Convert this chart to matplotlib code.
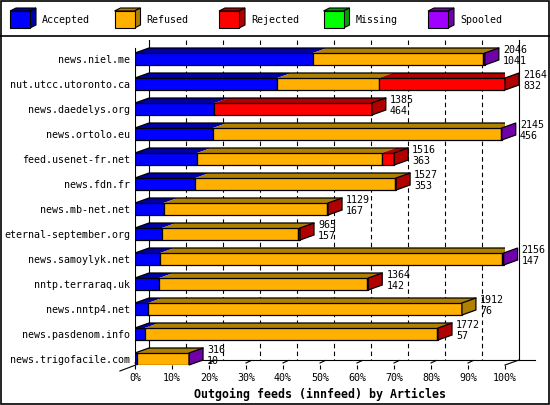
import matplotlib
matplotlib.use("Agg")
import matplotlib.pyplot as plt
from matplotlib.patches import Polygon, Rectangle
import numpy as np

# data: articles per outgoing feed
hosts = ["news.niel.me", "nut.utcc.utoronto.ca", "news.daedelys.org", "news.ortolo.eu",
         "feed.usenet-fr.net", "news.fdn.fr", "news.mb-net.net", "eternal-september.org",
         "news.samoylyk.net", "nntp.terraraq.uk", "news.nntp4.net", "news.pasdenom.info",
         "news.trigofacile.com"]
offered = [2046, 2164, 1385, 2145, 1516, 1527, 1129, 965, 2156, 1364, 1912, 1772, 316]
accepted = [1041, 832, 464, 456, 363, 353, 167, 157, 147, 142, 76, 57, 10]
refused = [997, 595, 0, 1685, 1081, 1167, 956, 798, 2001, 1215, 1836, 1709, 304]
rejected = [0, 737, 921, 0, 72, 7, 6, 10, 0, 7, 0, 6, 0]
missing = [0] * 13
spooled = [8, 0, 0, 4, 0, 0, 0, 0, 8, 0, 0, 0, 2]

series = ["Accepted", "Refused", "Rejected", "Missing", "Spooled"]
front = ["#0000ff", "#ffb000", "#ff0000", "#00ff00", "#a000ff"]
dark = ["#0000a8", "#b08000", "#b00000", "#00a000", "#7000a8"]
xticks = np.arange(0, 101, 10)

MONO = "DejaVu Sans Mono"
FS = 7.2
W, H = 550, 405

fig = plt.figure(figsize=(5.5, 4.05), dpi=100)

# background / legend layer in pixel coords
bg = fig.add_axes([0, 0, 1, 1], zorder=0)
bg.set_xlim(0, W)
bg.set_ylim(H, 0)
bg.axis("off")
bg.add_patch(Rectangle((0.5, 0.5), W - 1.5, H - 1.5, fill=False, ec="black", lw=1.2))
bg.plot([0, W], [35.5, 35.5], color="black", lw=1.2)
for k, name in enumerate(series):
    x0 = 10 + 104.5 * k
    bg.add_patch(Polygon([(x0, 11), (x0 + 6, 8), (x0 + 26, 8), (x0 + 20, 11)],
                         fc=dark[k], ec="black", lw=0.8))
    bg.add_patch(Polygon([(x0 + 20, 11), (x0 + 26, 8), (x0 + 26, 25), (x0 + 20, 28)],
                         fc=dark[k], ec="black", lw=0.8))
    bg.add_patch(Rectangle((x0, 11), 20, 17, fc=front[k], ec="black", lw=0.8))
    bg.text(x0 + 32, 20, name, family=MONO, fontsize=FS, va="center", ha="left")

# main chart: x in % of largest feed, y in rows
ax = fig.add_axes([135 / W, 40 / H, 370 / W, 325 / H], zorder=1)
ax.patch.set_visible(False)
ax.set_xlim(0, 100)
ax.set_ylim(12.24, -0.76)
for s in ax.spines.values():
    s.set_visible(False)

DX = 14 / 3.7      # depth offset in %
DY = 0.2           # depth offset in rows
BH = 0.48
top_back = -0.76
floor_front = 12.24
floor_back = floor_front - DY

# back wall / grid
ax.plot([DX, DX], [top_back, floor_back], color="black", lw=0.8, zorder=1)
ax.plot([100 + DX, 100 + DX], [top_back, floor_back], color="black", lw=0.8, zorder=1, clip_on=False)
ax.plot([DX, 108], [floor_back, floor_back], color="black", lw=0.8, zorder=1, clip_on=False)
for t in xticks[1:-1]:
    ax.plot([t + DX, t + DX], [top_back, floor_back], color="black", lw=0.8,
            ls=(0, (4, 3)), zorder=1)
ax.plot([-DX - 0.3, DX], [floor_front + 0.24, floor_back], color="black", lw=0.8, zorder=1, clip_on=False)
ax.plot([100, 100 + DX], [floor_front, floor_back], color="black", lw=0.8, zorder=1, clip_on=False)
ax.plot([0, 0], [-0.44, floor_front], color="black", lw=0.8, zorder=1)
for t in xticks[:-1]:
    ax.plot([t, t + 1.4], [floor_front - 0.08, floor_back + 0.02], color="black", lw=0.8,
            zorder=1, clip_on=False)

vals = np.array([accepted, refused, rejected, missing, spooled], dtype=float)
scale = 100.0 / max(offered)
rows = np.arange(len(hosts))

for i in rows:
    cum = 0.0
    last = 0
    top = i - BH / 2
    for k in range(len(series)):
        w = vals[k, i] * scale
        if w <= 0:
            continue
        ax.add_patch(Polygon([(cum, top), (cum + w, top), (cum + w + DX, top - DY), (cum + DX, top - DY)],
                             fc=dark[k], ec="none", zorder=2))
        ax.barh(i, w, left=cum, height=BH, color=front[k], edgecolor="black", lw=0.9, zorder=3)
        cum += w
        last = k
    ax.plot([0, DX, cum + DX], [top, top - DY, top - DY], color="black", lw=0.9, zorder=4)
    ax.add_patch(Polygon([(cum, top), (cum + DX, top - DY), (cum + DX, top - DY + BH), (cum, top + BH)],
                         fc=dark[last], ec="black", lw=0.9, zorder=4, clip_on=False))
    xt = cum + DX + 1.1
    ax.text(xt, i - 0.36, str(offered[i]), family=MONO, fontsize=FS, va="center", ha="left",
            zorder=5, clip_on=False)
    ax.text(xt, i + 0.08, str(accepted[i]), family=MONO, fontsize=FS, va="center", ha="left",
            zorder=5, clip_on=False)

ax.set_yticks(rows)
ax.set_yticklabels(hosts, family=MONO, fontsize=FS)
ax.tick_params(axis="y", length=0, pad=3.6)
ax.set_xticks(xticks)
ax.set_xticklabels([f"{t}%" for t in xticks], family=MONO, fontsize=FS)
ax.tick_params(axis="x", length=3, width=0.8, pad=3)
ax.set_xlabel("Outgoing feeds (innfeed) by Articles", family=MONO, fontsize=8.4,
              fontweight="bold", labelpad=3)

fig.savefig("out.png", dpi=100)
